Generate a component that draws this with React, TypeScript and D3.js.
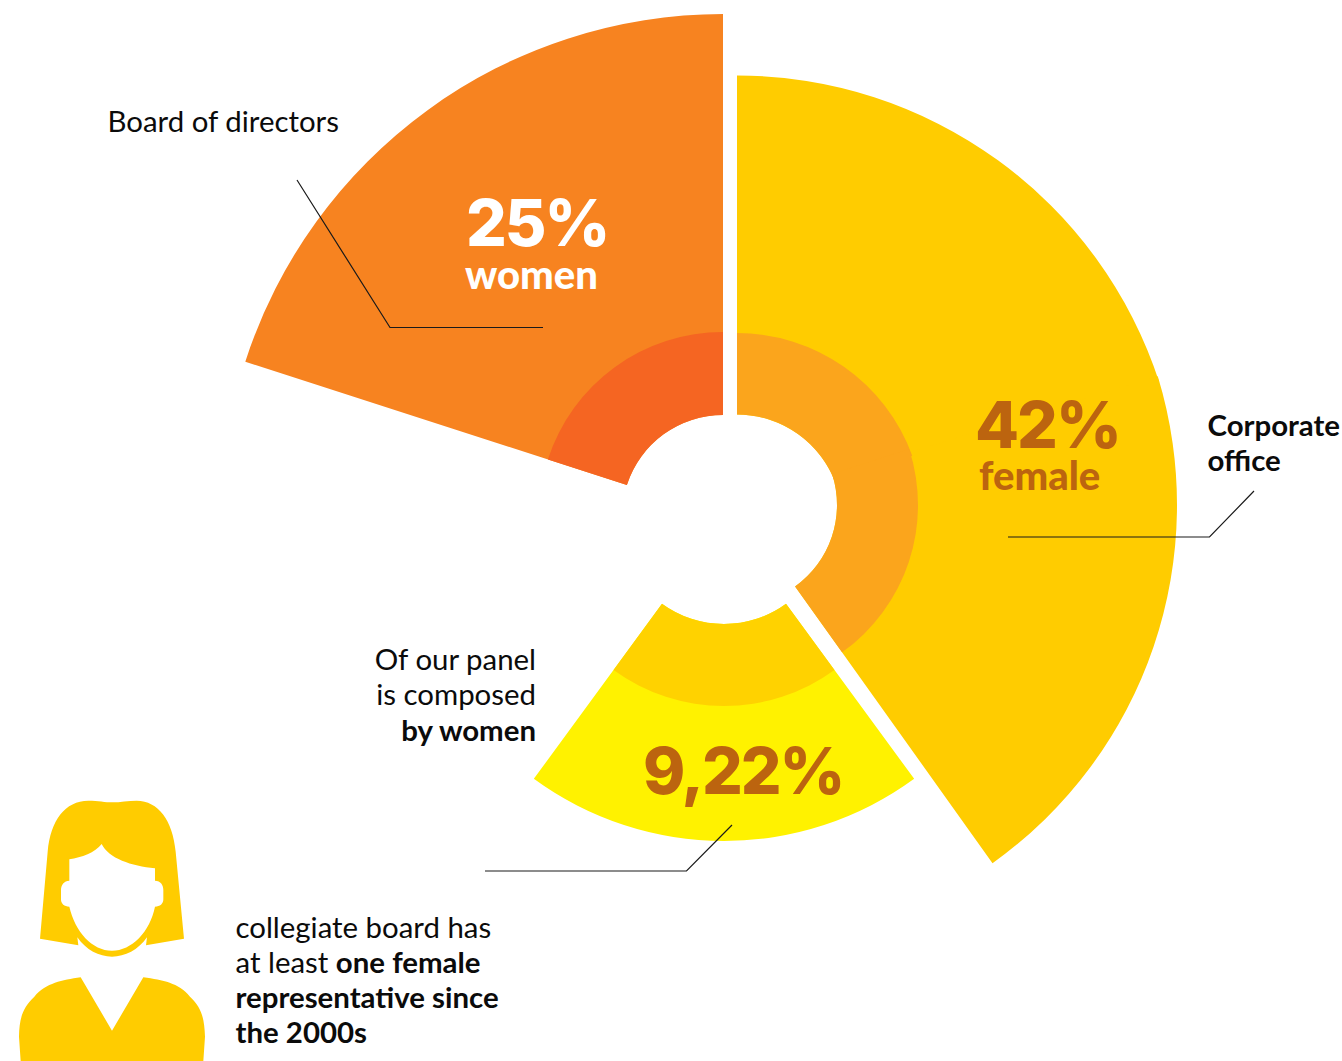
import React from "react";
import * as d3 from "d3";

// Shares stated on each wedge, clockwise from the board wedge.
const sliceNames = ["Board of directors", "Corporate office", "Panel"];
const sliceShares = [25, 42, 9.22];
const shareLabels = ["25%", "42%", "9,22%"];
const unitLabels = ["women", "female", ""];

// Wedge sweep in degrees for each stated share (an illustrated, not proportional, scale).
const shareDomain = [9.22, 25, 42];
const sweepRange = [72.4, 72.1, 144.5];
const sweep = d3.scaleLinear().domain(shareDomain).range(sweepRange);
const rad = d3.scaleLinear().domain([0, 360]).range([0, 2 * Math.PI]);

const arc = d3.arc();
const wedge = (inner: number, outer: number, a0: number, a1: number) =>
  arc({ innerRadius: inner, outerRadius: outer, startAngle: rad(a0), endAngle: rad(a1) }) as string;

const Line = ({ d }: { d: string }) => <path d={d} fill="none" stroke="#1a1a1a" strokeWidth={1.2} />;

const textFont = "Lato, sans-serif";
const figureFont = "Inter, sans-serif";
const brown = "#BC640F";

const T = ({ x, y, size = 29.4, weight = 400, anchor = "start", fill = "#0b0b0b", font = textFont, spacing = 0, children }: any) => (
  <text x={x} y={y} fontFamily={font} fontSize={size} fontWeight={weight} textAnchor={anchor} fill={fill} letterSpacing={spacing}>
    {children}
  </text>
);

export default function App() {
  const [board, office, panel] = sliceShares.map((s) => sweep(s));
  const panelHalf = panel / 2;
  return (
    <svg
      width={1342}
      height={1061}
      viewBox="0 0 1342 1061"
      style={{ position: "absolute", left: 0, top: 0, background: "#fff" }}
    >
      {/* Board of directors wedge */}
      <g transform="translate(723,516)">
        <path d={wedge(101, 502, -board, 0)} fill="#F78320" />
        <path d={wedge(101, 184, -board, 0)} fill="#F56522" />
      </g>

      {/* Corporate office wedge: its arcs are drawn in two pieces with slightly different centres */}
      <g transform="translate(737,519.5)">
        <path d={wedge(105, 444, 0, 72)} fill="#FFCC00" />
      </g>
      <g transform="translate(737,505)">
        <path d={wedge(100, 440, 73, office)} fill="#FFCC00" />
      </g>
      <g transform="translate(737,519.5)">
        <path d={wedge(105, 186.5, 0, 70)} fill="#FBA51C" />
      </g>
      <g transform="translate(737,505)">
        <path d={wedge(100, 181, 72, office)} fill="#FBA51C" />
      </g>

      {/* Panel wedge */}
      <g transform="translate(724,519)">
        <path d={wedge(105, 322, 180 - panelHalf, 180 + panelHalf)} fill="#FFF200" />
        <path d={wedge(105, 187, 180 - panelHalf, 180 + panelHalf)} fill="#FFD200" />
      </g>

      {/* Leader lines */}
      <Line d="M297,180 L390,327.5 L543,327.5" />
      <Line d="M1254,491 L1209.5,537 L1008,537" />
      <Line d="M732,825 L686.5,871 L485,871" />

      {/* Values on the wedges */}
      <T x={466} y={246} size={64} weight={800} spacing={-2} fill="#fff" font={figureFont}>{shareLabels[0]}</T>
      <T x={465} y={289} size={40} weight={900} fill="#fff">{unitLabels[0]}</T>
      <T x={975} y={448} size={64} weight={800} spacing={-2} fill={brown} font={figureFont}>{shareLabels[1]}</T>
      <T x={979} y={490} size={40} weight={900} fill={brown}>{unitLabels[1]}</T>
      <T x={643} y={794} size={64} weight={800} spacing={-2} fill={brown} font={figureFont}>{shareLabels[2]}</T>

      {/* Captions */}
      <T x={107.5} y={132}>{sliceNames[0]}</T>
      <T x={1207.5} y={436} weight={700}>Corporate</T>
      <T x={1207.5} y={471} weight={700}>office</T>
      <T x={536} y={669.5} anchor="end">Of our panel</T>
      <T x={536} y={704.5} anchor="end">is composed</T>
      <T x={536} y={741} anchor="end" weight={700}>by women</T>
      <T x={235.5} y={938}>collegiate board has</T>
      <T x={235.5} y={973}>at least <tspan fontWeight={700}>one female</tspan></T>
      <T x={235.5} y={1008} weight={700}>representative since</T>
      <T x={235.5} y={1043} weight={700}>the 2000s</T>

      {/* Woman pictogram */}
      <g transform="translate(0,780) scale(0.33333)" fill="#FFCC00">
        <path
          fillRule="evenodd"
          d="M120,476 L143,215 C152,120 195,63 265,62 C295,62 315,67 338,67 C360,67 385,62 410,62 C475,63 518,120 527,215 L552,476 L438,496 L441,472 C415,510 375,530 336,530 C297,530 258,510 232,472 L235,496 Z
             M208,238 C245,232 285,218 305,192 C325,235 395,258 465,265 L465,302 C482,302 490,315 490,330 L490,358 C490,372 480,380 465,380 C450,455 395,512 336,512 C277,512 225,455 208,380 C193,380 183,372 183,358 L183,330 C183,315 192,302 208,302 Z"
        />
        <path d="M242,592 L336,752 L430,592 C490,601 535,608 570,650 C605,682 613,715 615,770 L610,843 L62,843 L57,770 C58,715 68,682 103,650 C140,608 185,601 242,592 Z" />
      </g>
    </svg>
  );
}
